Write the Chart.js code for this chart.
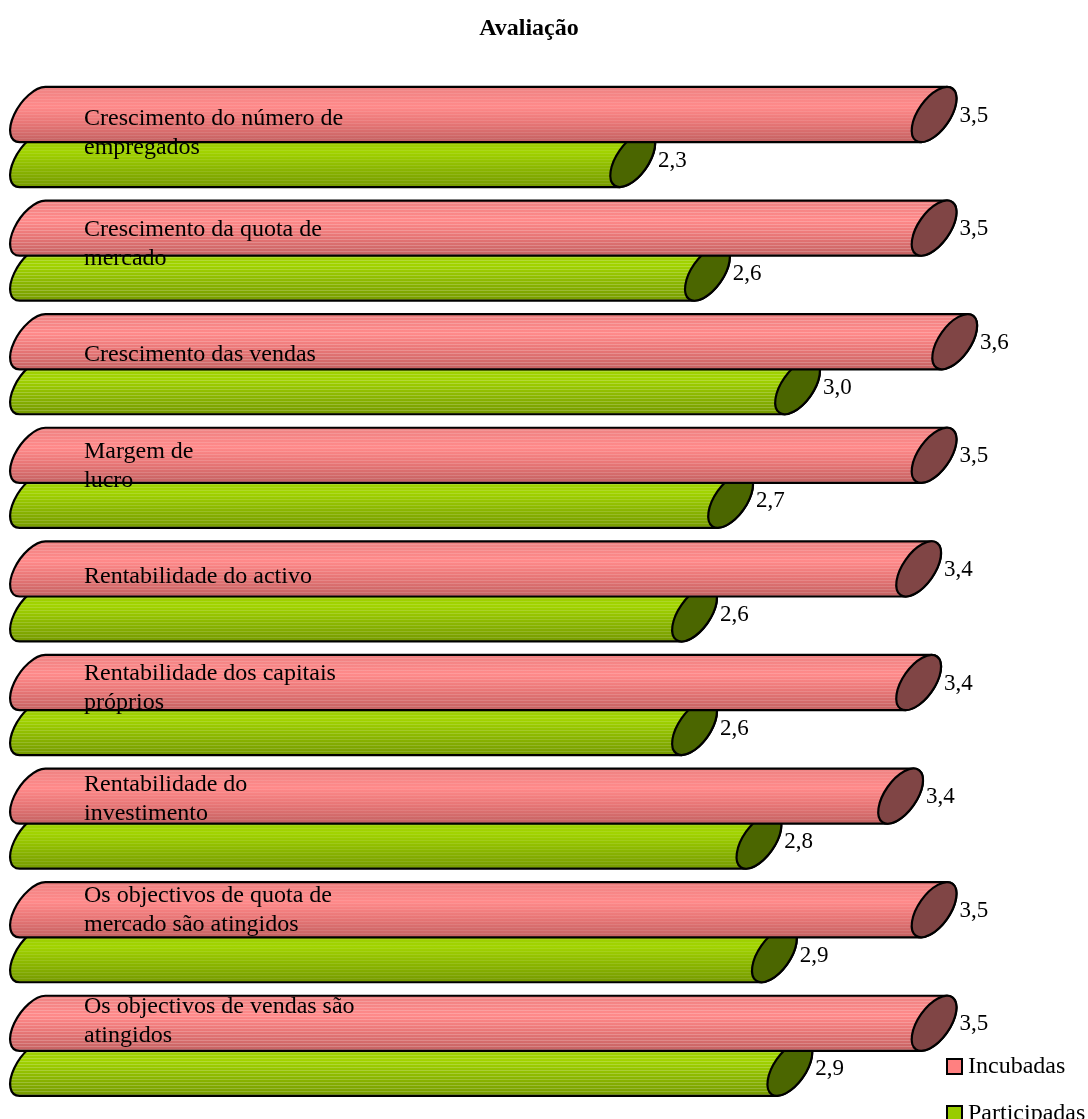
<!DOCTYPE html>
<html>
<head>
<meta charset="utf-8">
<script src="https://cdn.jsdelivr.net/npm/chart.js@4.4.1/dist/chart.umd.min.js"></script>
<style>
  html, body { margin: 0; padding: 0; background: #ffffff; }
</style>
</head>
<body>
<canvas id="chart" width="1088" height="1119"></canvas>
<script>
// Dados do gráfico
const chartTitle = "Avaliação";
const categories = [
  ["Crescimento do número de", "empregados"],
  ["Crescimento da quota de", "mercado"],
  ["Crescimento das vendas"],
  ["Margem de", "lucro"],
  ["Rentabilidade do activo"],
  ["Rentabilidade dos capitais", "próprios"],
  ["Rentabilidade do", "investimento"],
  ["Os objectivos de quota de", "mercado são atingidos"],
  ["Os objectivos de vendas são", "atingidos"],
];
const seriesNames = ["Incubadas", "Participadas"];
const incubadas = [3.5, 3.5, 3.58, 3.5, 3.44, 3.44, 3.37, 3.5, 3.5];
const participadas = [2.33, 2.62, 2.97, 2.71, 2.57, 2.57, 2.82, 2.88, 2.94];

const FONT = "'Liberation Serif', 'Times New Roman', serif";
const TILT = (35 * Math.PI) / 180; // inclinação das tampas do cilindro

// cores de cada série: corpo (gradiente) e tampa
const palette = [
  { legend: "#FF8080", top: "#EE8282", mid: "#FF8A8A", low: "#E87676", bottom: "#C46262", cap: "#804545" },
  { legend: "#99CC00", top: "#94C800", mid: "#A2D400", low: "#8CB800", bottom: "#769A00", cap: "#4B6600" },
];

function formatValue(v) {
  return v.toFixed(1).replace(".", ",");
}

// geometria da elipse inclinada a partir da meia-altura do cilindro
function capGeom(h) {
  const ry = 1.156 * h;
  const rx = 0.578 * h;
  const s = Math.sin(TILT), c = Math.cos(TILT);
  const tTop = Math.atan2(-ry * c, -rx * s);
  const w = Math.sqrt(ry * ry * s * s + rx * rx * c * c);
  return { rx, ry, tTop, tBot: tTop + Math.PI, w };
}

function drawCylinder(ctx, x0, x1, yc, h, col) {
  const g = capGeom(h);
  ctx.save();
  ctx.beginPath();
  ctx.ellipse(x0, yc, g.rx, g.ry, TILT, g.tTop, g.tBot, true);
  ctx.ellipse(x1, yc, g.rx, g.ry, TILT, g.tBot, g.tTop, true);
  ctx.closePath();

  const grad = ctx.createLinearGradient(0, yc - h, 0, yc + h);
  grad.addColorStop(0, col.top);
  grad.addColorStop(0.35, col.mid);
  grad.addColorStop(0.65, col.low);
  grad.addColorStop(1, col.bottom);
  ctx.fillStyle = grad;
  ctx.fill();

  // listras horizontais claras
  ctx.save();
  ctx.clip();
  for (let y = Math.floor(yc - h); y < yc + h; y += 3) {
    ctx.fillStyle = "rgba(255,255,255," + (0.1 + 0.1 * ((y * 7) % 3) / 2) + ")";
    ctx.fillRect(x0 - g.w - 2, y, x1 - x0 + 2 * g.w + 4, 1);
  }
  ctx.restore();

  ctx.lineWidth = 2.2;
  ctx.lineJoin = "round";
  ctx.strokeStyle = "#000000";
  ctx.stroke();

  // tampa direita
  ctx.beginPath();
  ctx.ellipse(x1, yc, g.rx, g.ry, TILT, 0, Math.PI * 2);
  ctx.fillStyle = col.cap;
  ctx.fill();
  ctx.stroke();
  ctx.restore();
}

// Plugin para desenhar os cilindros no lugar das barras
const cylinderPlugin = {
  id: "cylinders",
  beforeDatasetDraw(chart, args) {
    const ctx = chart.ctx;
    const col = palette[args.index];
    args.meta.data.forEach((bar) => {
      const p = bar.getProps(["x", "y", "base", "height"], true);
      const h = p.height * 0.611;
      drawCylinder(ctx, p.base, p.x, p.y, h, col);
    });
    return false;
  },
  afterDatasetsDraw(chart) {
    const ctx = chart.ctx;
    const area = chart.chartArea;
    ctx.save();
    ctx.fillStyle = "#000000";
    ctx.textAlign = "left";
    ctx.textBaseline = "middle";

    // valores à direita das tampas
    ctx.font = "23px " + FONT;
    chart.data.datasets.forEach((ds, i) => {
      const meta = chart.getDatasetMeta(i);
      meta.data.forEach((bar, j) => {
        const p = bar.getProps(["x", "y", "height"], true);
        const g = capGeom(p.height * 0.611);
        ctx.fillText(formatValue(ds.data[j]), p.x + g.w + 3, p.y + 1);
      });
    });

    // rótulos das categorias dentro das barras
    ctx.font = "24px " + FONT;
    const step = (area.bottom - area.top) * 0.978 / categories.length;
    const lineH = 29;
    categories.forEach((lines, i) => {
      const yc = area.top - 3 + (i + 0.5) * step;
      lines.forEach((t, k) => {
        ctx.fillText(t, 84, yc + (k - (lines.length - 1) / 2) * lineH);
      });
    });
    ctx.restore();
  },
  afterDraw(chart) {
    const ctx = chart.ctx;
    ctx.save();
    // título
    ctx.font = "bold 24px " + FONT;
    ctx.fillStyle = "#000000";
    ctx.textAlign = "center";
    ctx.textBaseline = "middle";
    ctx.fillText(chartTitle, 529, 29);

    // legenda
    ctx.textAlign = "left";
    ctx.font = "24px " + FONT;
    chart.data.datasets.forEach((ds, i) => {
      const y = 1059 + i * 47;
      ctx.fillStyle = palette[i].legend;
      ctx.fillRect(947, y, 15, 15);
      ctx.lineWidth = 2;
      ctx.strokeStyle = "#000000";
      ctx.strokeRect(947, y, 15, 15);
      ctx.fillStyle = "#000000";
      ctx.fillText(ds.label, 968, y + 8);
    });
    ctx.restore();
  },
};

const ctx = document.getElementById("chart").getContext("2d");
new Chart(ctx, {
  type: "bar",
  data: {
    labels: categories,
    datasets: [
      { label: seriesNames[0], data: incubadas, backgroundColor: palette[0].legend },
      { label: seriesNames[1], data: participadas, backgroundColor: palette[1].legend },
    ],
  },
  options: {
    responsive: false,
    animation: false,
    indexAxis: "y",
    categoryPercentage: 0.792,
    barPercentage: 1,
    layout: {
      padding: { left: 32.5, right: 25.1, top: 80.2, bottom: 16.4 },
    },
    scales: {
      x: { min: 0, max: 4, display: false },
      y: { display: false },
    },
    plugins: {
      legend: { display: false },
      title: { display: false },
      tooltip: { enabled: false },
    },
  },
  plugins: [cylinderPlugin],
});
</script>
</body>
</html>
